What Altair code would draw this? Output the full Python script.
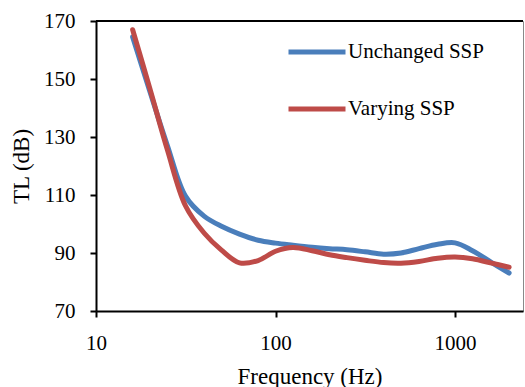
import altair as alt
import pandas as pd

# One-third-octave band centre frequencies (Hz)
freq = [16, 20, 25, 31.5, 40, 50, 63, 80, 100, 125, 160, 200, 250, 315,
        400, 500, 630, 800, 1000, 1250, 1600, 2000]
# Transmission loss (dB)
unchanged_ssp = [164.5, 145.5, 127.0, 109.6, 102.7, 99.2, 96.5, 94.4, 93.4, 92.7,
                 92.0, 91.5, 91.1, 90.4, 89.6, 90.0, 91.5, 93.0, 93.5, 90.8,
                 86.7, 83.1]
varying_ssp = [167.0, 146.5, 125.5, 106.3, 96.9, 91.0, 86.6, 87.4, 90.6, 91.9,
               90.8, 89.4, 88.4, 87.5, 86.7, 86.5, 87.1, 88.2, 88.6, 88.0,
               86.5, 85.1]
series_names = ["Unchanged SSP", "Varying SSP"]
series_colors = ["#4A7EBB", "#BE4B48"]
x_ticks = [10, 100, 1000]
y_ticks = [70, 90, 110, 130, 150, 170]

rows = []
for name, vals in zip(series_names, [unchanged_ssp, varying_ssp]):
    for f, v in zip(freq, vals):
        rows.append({"Frequency": f, "TL": v, "Series": name})
df = pd.DataFrame(rows)

FONT = "Liberation Serif"
W, H = 427, 290

lines = alt.Chart(df).mark_line(
    interpolate="catmull-rom", strokeWidth=5, strokeCap="round"
).encode(
    x=alt.X("Frequency:Q",
            scale=alt.Scale(type="log", domain=[10, 2390]),
            axis=alt.Axis(values=x_ticks, format="d", title="Frequency (Hz)",
                          labelFlush=False, titlePadding=12)),
    y=alt.Y("TL:Q",
            scale=alt.Scale(domain=[70, 170]),
            axis=alt.Axis(values=y_ticks, title="TL (dB)", labelFlush=False,
                          titlePadding=10)),
    color=alt.Color("Series:N",
                    scale=alt.Scale(domain=series_names, range=series_colors),
                    legend=alt.Legend(orient="none", legendX=190, legendY=0,
                                      title=None, symbolType="stroke",
                                      symbolSize=3249, symbolStrokeWidth=5,
                                      labelFont=FONT, labelFontSize=21,
                                      labelColor="black", padding=0,
                                      rowPadding=16, labelOffset=0, offset=0)),
)

top_rule = alt.Chart(pd.DataFrame({"a": [0]})).mark_rule(
    color="black", strokeWidth=2
).encode(x=alt.value(0), x2=alt.value(W), y=alt.value(0))

chart = alt.layer(lines, top_rule).properties(
    width=W, height=H,
    padding={"left": 96, "top": 21, "right": 2, "bottom": 76},
    autosize=alt.AutoSizeParams(type="none"),
).configure_view(
    stroke="#898989", strokeWidth=1
).configure_axis(
    domainColor="black", domainWidth=2, tickColor="black", tickWidth=2,
    tickSize=6, labelFont=FONT, labelFontSize=21, labelColor="black",
    titleFont=FONT, titleFontSize=23, titleFontWeight="normal",
    titleColor="black", grid=False, labelPadding=15
)

chart.save("out.html", embed_options={"renderer": "svg", "actions": False})
